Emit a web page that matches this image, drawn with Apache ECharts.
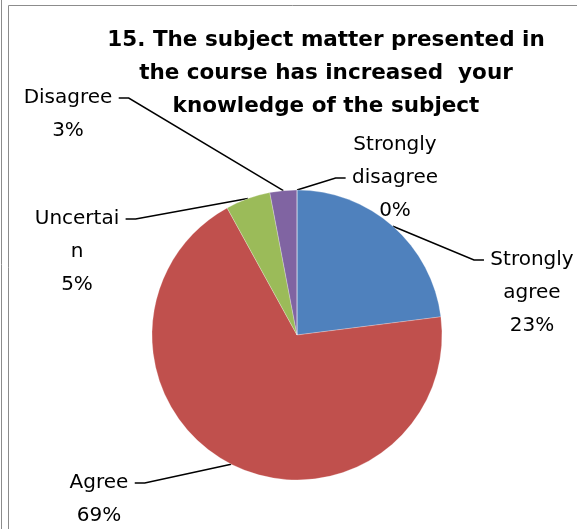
<!DOCTYPE html>
<html>
<head>
<meta charset="utf-8">
<script src="https://cdn.jsdelivr.net/npm/echarts@6/dist/echarts.min.js"></script>
<style>
  html, body { margin: 0; padding: 0; background: #fff; }
  #chart { width: 577px; height: 529px; }
</style>
</head>
<body>
<div id="chart"></div>
<script>
var categories = ['Strongly\nagree', 'Agree', 'Uncertai\nn', 'Disagree', 'Strongly\ndisagree']
var percents = [23, 69, 5, 3, 0]
var sliceColors = ['#4F81BD', '#C0504D', '#9BBB59', '#8064A2', '#4BACC6']

// where each label sits: x centre, y of the text line the leader meets, and which line that is
var labelSpots = [[532, 260], [99, 483], [77, 219], [68, 98], [395, 178]]
var leaderLine = [0, 0, 0, 0, 1]

var chart = echarts.init(document.getElementById('chart'))

var option = {
  animation: false,
  title: {
    text: '15. The subject matter presented in\nthe course has increased  your\nknowledge of the subject',
    left: 321,
    top: 19,
    textAlign: 'center',
    textStyle: {
      fontFamily: 'DejaVu Sans',
      fontWeight: 'bold',
      fontSize: 21.5,
      lineHeight: 33,
      color: '#000'
    }
  },
  graphic: [
    { type: 'line', shape: { x1: 1.5, y1: 0, x2: 1.5, y2: 529 }, style: { stroke: '#8c8c8c', lineWidth: 1 } },
    { type: 'polyline', shape: { points: [[8.5, 529], [8.5, 5.5], [577, 5.5]] }, style: { stroke: '#8c8c8c', lineWidth: 1, fill: null } }
  ],
  series: [
    {
      type: 'pie',
      center: [297, 335],
      radius: 145,
      startAngle: 90,
      clockwise: true,
      minAngle: 0,
      avoidLabelOverlap: false,
      data: categories.map(function (name, i) {
        return { name: name, value: percents[i], itemStyle: { color: sliceColors[i] } }
      }),
      itemStyle: { borderColor: 'rgba(255,255,255,0.5)', borderWidth: 0.5 },
      label: {
        show: true,
        position: 'outside',
        formatter: function (p) {
          var lines = (p.name + '\n' + p.value + '%').split('\n')
          // blank lines on top so the leader meets the right text line
          var pad = lines.length - 2 * leaderLine[p.dataIndex] - 1
          var out = []
          for (var k = 0; k < pad; k++) out.push(' ')
          return out.concat(lines.map(function (s) { return ' ' + s + ' ' })).join('\n')
        },
        fontFamily: 'DejaVu Sans',
        fontSize: 20,
        lineHeight: 33,
        color: '#000',
        align: 'center'
      },
      labelLine: {
        show: true,
        length: 20,
        length2: 10,
        lineStyle: { color: '#000', width: 1.5 }
      },
      labelLayout: function (params) {
        var s = labelSpots[params.dataIndex]
        return { x: s[0], y: s[1], align: 'center', verticalAlign: 'middle' }
      },
      emphasis: { disabled: true }
    }
  ]
}

chart.setOption(option)
</script>
</body>
</html>
